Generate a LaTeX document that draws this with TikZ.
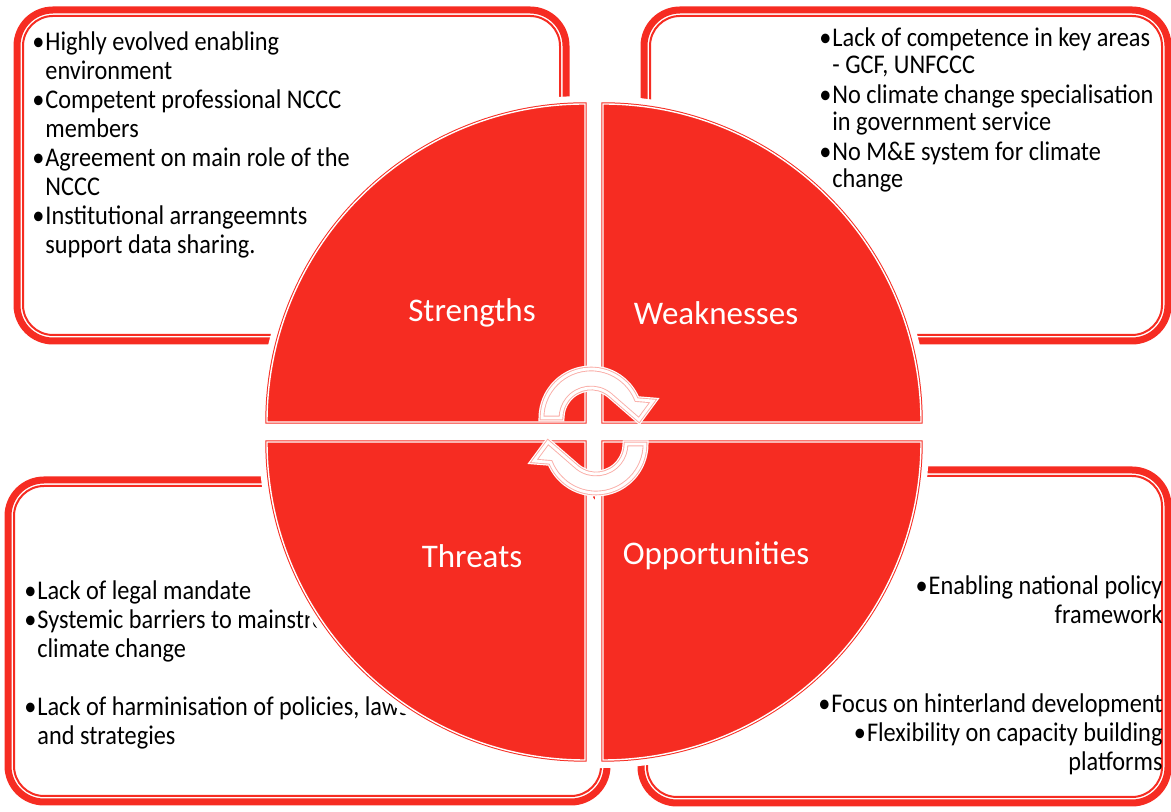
\documentclass[tikz,border=0pt]{standalone}
\usepackage{fontspec}
\setmainfont{Carlito}
\newfontfamily\narrowfont{Carlito}[FakeStretch=0.9]
\definecolor{swotred}{RGB}{246,44,34}
\definecolor{arrowpink}{RGB}{250,172,166}
\newcommand\swotbullet{\textbullet\hspace{0.5pt}}

\begin{document}
\begin{tikzpicture}[x=0.5pt,y=0.5pt,
	outerline/.style={swotred, line width=3.5pt, rounded corners=18pt},
	innerline/.style={swotred, line width=1pt, rounded corners=15pt},
	halo/.style={draw=white, line width=8pt},
	quarter/.style={fill=swotred, draw=swotred, double=white, double distance=0.7pt, line width=0.5pt},
	boxtext/.style={inner sep=0pt, font=\narrowfont\fontsize{13.5}{14.5}\selectfont, align=left},
	title/.style={white, font=\fontsize{16.5}{20}\selectfont},
	turn/.style={draw=arrowpink, fill=white, double=white, double distance=1.4pt, line width=0.45pt,
		preaction={draw=white, line width=3.5pt}}
	]
	\useasboundingbox (0,0) rectangle (1171,812);
	
	%Strengths box
	\draw[outerline] (17,471) rectangle (566,802);
	\draw[innerline] (23,477) rectangle (560,796);
	%Weaknesses box
	\draw[outerline] (644,471) rectangle (1168,802);
	\draw[innerline] (650,477) rectangle (1162,796);
	%Threats box
	\draw[outerline] (8,10) rectangle (607,332);
	\draw[innerline] (14,16) rectangle (601,326);
	%Opportunities box
	\draw[outerline] (641,9) rectangle (1168,342);
	\draw[innerline] (647,15) rectangle (1162,336);
	
	% texts sit on the baseline of their last line
	\node[boxtext, anchor=base west] (strtext) at (45,558) {\llap{\swotbullet}Highly evolved enabling\\environment\\\llap{\swotbullet}Competent professional NCCC\\members\\\llap{\swotbullet}Agreement on main role of the\\NCCC\\\llap{\swotbullet}Institutional arrangeemnts\\support data sharing.};
	\node[boxtext, font=\narrowfont\fontsize{13.5}{13.5}\selectfont, anchor=base west] (wktext) at (832,624) {\llap{\swotbullet}Lack of competence in key areas\\- GCF, UNFCCC\\[1.5pt]\llap{\swotbullet}No climate change specialisation\\in government service\\[1.5pt]\llap{\swotbullet}No M\&E system for climate\\change};
	\node[boxtext, anchor=base west] (thrtext) at (37,67) {\llap{\swotbullet}Lack of legal mandate\\\llap{\swotbullet}Systemic barriers to mainstreaming\\climate change\\[14.5pt]\llap{\swotbullet}Lack of harminisation of policies, laws\\and strategies};
	\node[boxtext, align=right, anchor=base east] (opptext) at (1163,41) {\swotbullet Enabling national policy\\framework\\[30pt]\swotbullet Focus on hinterland development\\\swotbullet Flexibility on capacity building\\platforms};
	
	%four quarters of the circle
	\foreach \cx/\cy/\a in {585/390/90, 603/390/0, 585/370/180, 603/370/270}
		\draw[halo] (\cx,\cy) -- ++(\a:318) arc[start angle=\a, end angle=\a+90, radius=318] -- cycle;
	\foreach \cx/\cy/\a in {585/390/90, 603/390/0, 585/370/180, 603/370/270}
		\filldraw[quarter] (\cx,\cy) -- ++(\a:318) arc[start angle=\a, end angle=\a+90, radius=318] -- cycle;
	
	\node[title] (str) at (472,499) {Strengths};
	\node[title] (wk) at (716,499) {Weaknesses};
	\node[title] (thr) at (472,256) {Threats};
	\node[title] (opp) at (716,256) {Opportunities};
	
	%circular arrows
	\begin{scope}[shift={(591,394)}]
		\draw[turn] (180:49) arc[start angle=180, end angle=22, radius=49] -- (62,17) -- (48,-2) -- (52:30) arc[start angle=52, end angle=180, radius=30] -- cycle;
	\end{scope}
	\begin{scope}[shift={(596,368)}, rotate=180]
		\draw[turn] (180:49) arc[start angle=180, end angle=22, radius=49] -- (62,17) -- (48,-2) -- (52:30) arc[start angle=52, end angle=180, radius=30] -- cycle;
	\end{scope}
\end{tikzpicture}
\end{document}
